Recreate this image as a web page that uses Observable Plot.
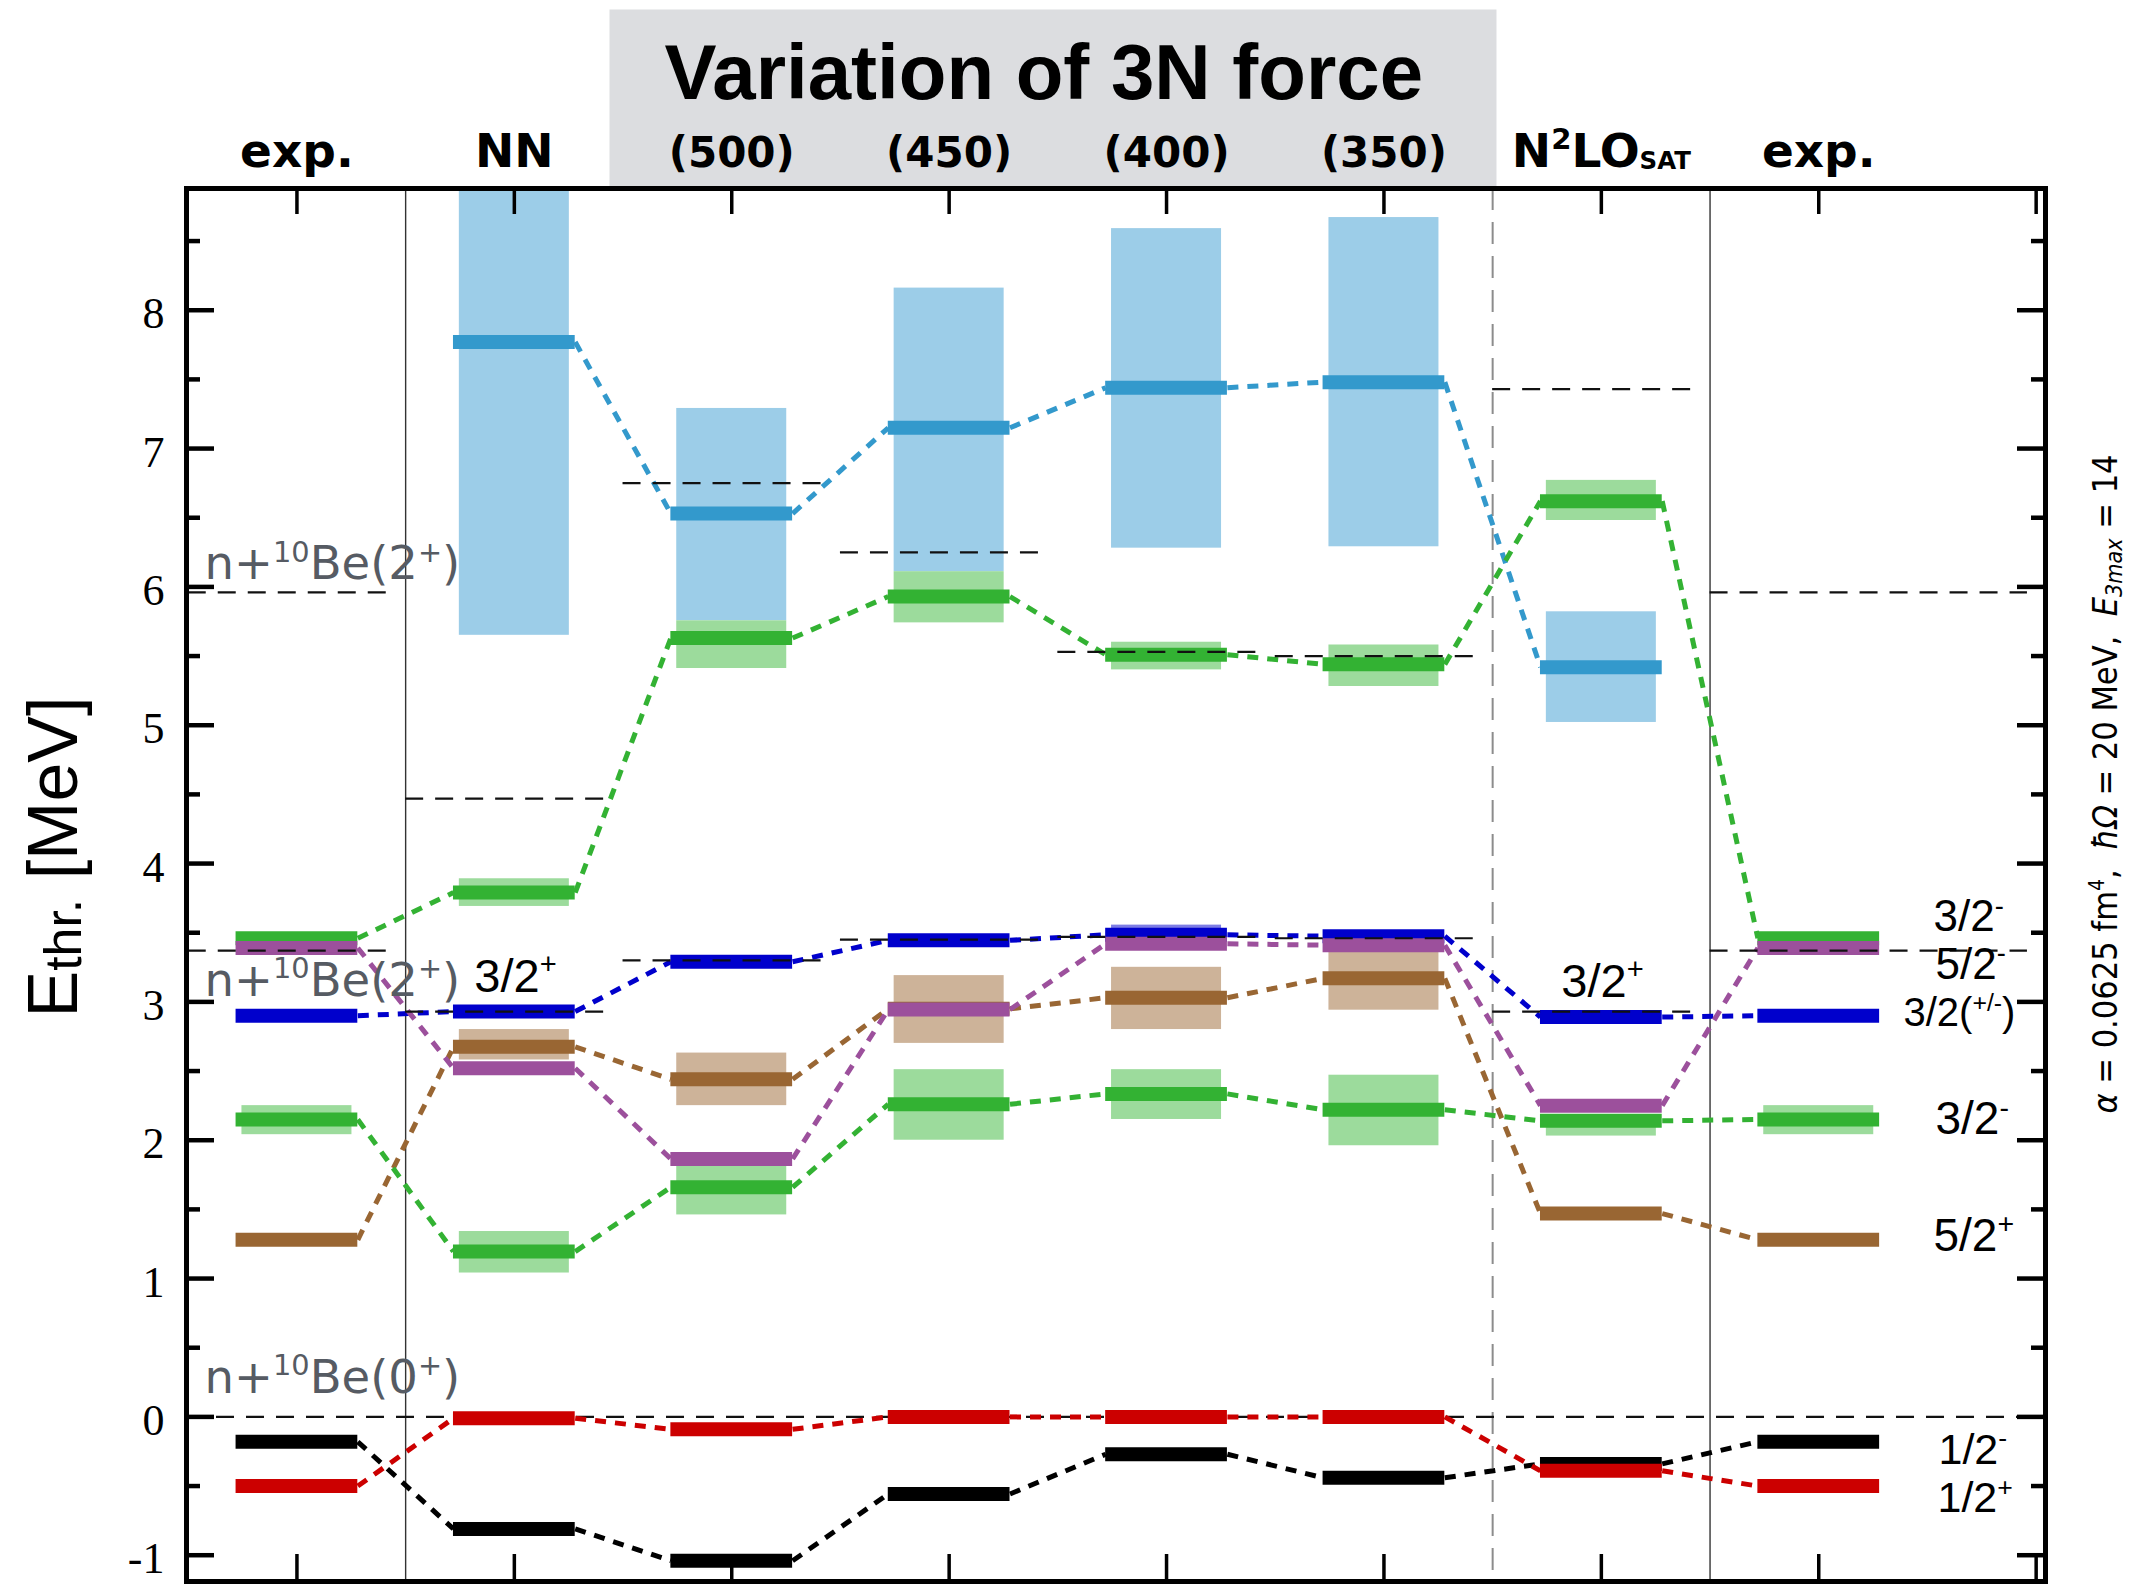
<!DOCTYPE html>
<html>
<head>
<meta charset="utf-8">
<script src="https://cdn.jsdelivr.net/npm/d3@7"></script>
<script src="https://cdn.jsdelivr.net/npm/@observablehq/plot@0.6"></script>
<style>
  html, body { margin: 0; padding: 0; background: #fff; }
  svg { display: block; }
</style>
</head>
<body>
<div id="chart"></div>
<script>
// ---------------- data ----------------
const columns = ["exp.", "NN", "(500)", "(450)", "(400)", "(350)", "N^{2}LO~{SAT}", "exp."];
const threeNColumns = [2, 3, 4, 5];
const columnTicks = [0, 1, 2, 3, 4, 5, 6, 7, 8];
const solidSeparatorsAfter = [0, 6];
const dashedSeparatorsAfter = [5];
const yMajorTicks = [-1, 0, 1, 2, 3, 4, 5, 6, 7, 8];
const yMinorTicks = [-0.5, 0.5, 1.5, 2.5, 3.5, 4.5, 5.5, 6.5, 7.5, 8.5];

// levels (MeV) per column; bands = lower / upper edge of shaded uncertainty
const lvlLightBlue = [null, 7.77, 6.53, 7.15, 7.44, 7.48, 5.42, null];
const loLightBlue  = [null, 5.65, 5.755, 6.11, 6.28, 6.29, 5.02, null];
const hiLightBlue  = [null, 9.0, 7.29, 8.16, 8.59, 8.67, 5.82, null];

const lvlGreenUpper = [3.46, 3.79, 5.63, 5.93, 5.51, 5.44, 6.62, 3.46];
const loGreenUpper  = [null, 3.69, 5.41, 5.74, 5.40, 5.28, 6.48, null];
const hiGreenUpper  = [null, 3.89, 5.755, 6.11, 5.60, 5.58, 6.77, null];

const lvlBlue = [2.90, 2.93, 3.29, 3.445, 3.485, 3.475, 2.89, 2.90];
const loBlue  = [null, null, null, null, 3.44, null, null, null];
const hiBlue  = [null, null, null, null, 3.555, null, null, null];

const lvlBrown = [1.28, 2.675, 2.44, 2.95, 3.03, 3.17, 1.47, 1.28];
const loBrown  = [null, 2.58, 2.25, 2.70, 2.80, 2.94, 1.43, null];
const hiBrown  = [null, 2.80, 2.63, 3.19, 3.25, 3.37, 1.51, null];

const lvlGreenLower = [2.15, 1.195, 1.66, 2.26, 2.335, 2.22, 2.14, 2.15];
const loGreenLower  = [2.04, 1.04, 1.46, 2.00, 2.15, 1.96, 2.03, 2.04];
const hiGreenLower  = [2.25, 1.34, 1.85, 2.51, 2.51, 2.47, 2.18, 2.25];

const lvlPurple = [3.39, 2.52, 1.865, 2.945, 3.42, 3.41, 2.25, 3.39];
const lvlBlack  = [-0.18, -0.81, -1.04, -0.557, -0.27, -0.44, -0.34, -0.18];
const lvlRed    = [-0.50, -0.01, -0.09, 0.0, 0.0, 0.0, -0.39, -0.50];

// thresholds n+10Be(2+) per column (lower and upper)
const thrLow  = [3.37, 2.93, 3.30, 3.45, 3.47, 3.46, 2.93, 3.37];
const thrHigh = [5.96, 4.47, 6.75, 6.25, 5.53, 5.50, 7.43, 5.96];
const thrZero = [0];

const thresholdLabels = ["n+^{10}Be(2^{+})", "n+^{10}Be(2^{+})", "n+^{10}Be(0^{+})"];
const blueLabelColumns = [1, 6];
const blueLabelText = "3/2^{+}";
const rightLabels = ["3/2^{-}", "5/2^{-}", "3/2(^{+/-})", "3/2^{-}", "5/2^{+}", "1/2^{-}", "1/2^{+}"];
const rightLabelSeries = ["greenUpper", "purple", "blue", "greenLower", "brown", "black", "red"];
const titleText = "Variation of 3N force";
const yLabelText = "E_{thr.} [MeV]";
const paramText = "*{α} = 0.0625 fm^{4},  *{ħΩ} = 20 MeV,  *{E}%{3max} = 14";

// ---------------- styles ----------------
const seriesDefs = [
  {key: "lightBlue",  lvl: lvlLightBlue,  lo: loLightBlue,  hi: hiLightBlue,  color: "#3399cc", band: "#9ccde8"},
  {key: "greenUpper", lvl: lvlGreenUpper, lo: loGreenUpper, hi: hiGreenUpper, color: "#33b233", band: "#9cdb9c"},
  {key: "blue",       lvl: lvlBlue,       lo: loBlue,       hi: hiBlue,       color: "#0000cc", band: "#7d7de4"},
  {key: "brown",      lvl: lvlBrown,      lo: loBrown,      hi: hiBrown,      color: "#996633", band: "#cdb399"},
  {key: "greenLower", lvl: lvlGreenLower, lo: loGreenLower, hi: hiGreenLower, color: "#33b233", band: "#9cdb9c"},
  {key: "purple",     lvl: lvlPurple,     lo: null,         hi: null,         color: "#9c509c", band: null},
  {key: "black",      lvl: lvlBlack,      lo: null,         hi: null,         color: "#000000", band: null},
  {key: "red",        lvl: lvlRed,        lo: null,         hi: null,         color: "#cc0000", band: null}
];
const BAR_HW = 0.28, BAND_HW = 0.253;
const W = 2133, H = 1584, mT = 188, mL = 186, mR = 88, mB = 3;
const frameW = W - mL - mR, frameH = H - mT - mB;
const lastCol = columns.length - 1;

// ---------------- rows ----------------
const byKey = {};
for (const s of seriesDefs) {
  const levels = [], bands = [], links = [];
  s.lvl.forEach((v, c) => {
    if (v == null) return;
    levels.push({col: c, v});
    if (s.lo && s.lo[c] != null) bands.push({col: c, lo: s.lo[c], hi: s.hi[c]});
    if (c + 1 < s.lvl.length && s.lvl[c + 1] != null) links.push({c1: c, v1: v, c2: c + 1, v2: s.lvl[c + 1]});
  });
  byKey[s.key] = {s, levels, bands, links};
}
const thrRows = [...thrLow.map((v, col) => ({col, v})), ...thrHigh.map((v, col) => ({col, v}))];

const dashThr = {stroke: "#111", strokeWidth: 2.2, strokeDasharray: "18,12"};

const marks = [];
// bands
for (const s of seriesDefs) {
  const k = byKey[s.key];
  if (k.bands.length) marks.push(Plot.rect(k.bands, {x1: d => d.col - BAND_HW, x2: d => d.col + BAND_HW, y1: "lo", y2: "hi", fill: s.band, clip: true}));
}
// separators
marks.push(Plot.ruleX(solidSeparatorsAfter.map(c => c + 0.5), {stroke: "#333", strokeWidth: 1.4}));
marks.push(Plot.ruleX(dashedSeparatorsAfter.map(c => c + 0.5), {stroke: "#8c8c8c", strokeWidth: 2, strokeDasharray: "22,12"}));
// zero threshold across whole frame
marks.push(Plot.ruleY(thrZero, {y: d => d, ...dashThr}));
// connectors
for (const s of seriesDefs) {
  marks.push(Plot.link(byKey[s.key].links, {
    x1: d => d.c1 + BAR_HW, y1: "v1", x2: d => d.c2 - BAR_HW, y2: "v2",
    stroke: s.color, strokeWidth: 5, strokeDasharray: "11,9"
  }));
}
// level bars
for (const s of seriesDefs) {
  marks.push(Plot.ruleY(byKey[s.key].levels, {y: "v", x1: d => d.col - BAR_HW, x2: d => d.col + BAR_HW, stroke: s.color, strokeWidth: 14}));
}
// column thresholds (on top of bars)
marks.push(Plot.ruleY(thrRows, {y: "v", x1: d => d.col - 0.5, x2: d => d.col === lastCol ? d.col + 0.96 : d.col + 0.45, ...dashThr}));

// ticks
marks.push(Plot.ruleY(yMajorTicks, {y: d => d, insetRight: frameW - 28, stroke: "#000", strokeWidth: 4.5}));
marks.push(Plot.ruleY(yMinorTicks, {y: d => d, insetRight: frameW - 14, stroke: "#000", strokeWidth: 4.5}));
marks.push(Plot.ruleY(yMajorTicks, {y: d => d, insetLeft: frameW - 28, stroke: "#000", strokeWidth: 4.5}));
marks.push(Plot.ruleY(yMinorTicks, {y: d => d, insetLeft: frameW - 14, stroke: "#000", strokeWidth: 4.5}));
marks.push(Plot.ruleX(columnTicks, {x: d => d, insetBottom: frameH - 26, stroke: "#000", strokeWidth: 3.5}));
marks.push(Plot.ruleX(columnTicks, {x: d => d, insetTop: frameH - 27, stroke: "#000", strokeWidth: 3.5}));
marks.push(Plot.frame({stroke: "#000", strokeWidth: 5}));

// y tick labels
marks.push(Plot.text(yMajorTicks, {y: d => d, text: d => String(d), frameAnchor: "left", dx: -22, dy: 4, textAnchor: "end", fontFamily: "Liberation Serif, Times New Roman, serif", fontSize: 44, fill: "#000"}));

// column headers
marks.push(Plot.text(columns, {x: (d, i) => i, text: d => d, filter: (d, i) => !threeNColumns.includes(i), frameAnchor: "top", dy: -22, lineAnchor: "bottom", fontFamily: "DejaVu Sans, sans-serif", fontWeight: "bold", fontSize: 47, fill: "#000"}));
marks.push(Plot.text(columns, {x: (d, i) => i, text: d => d, filter: (d, i) => threeNColumns.includes(i), frameAnchor: "top", dy: -22, lineAnchor: "bottom", fontFamily: "DejaVu Sans, sans-serif", fontWeight: "bold", fontSize: 42, fill: "#000"}));
// title
marks.push(Plot.text([titleText], {x: () => d3.mean([threeNColumns[0], threeNColumns[threeNColumns.length - 1]]), text: d => d, frameAnchor: "top", dx: -14, dy: -90, lineAnchor: "bottom", fontFamily: "Liberation Sans, Arial, sans-serif", fontWeight: "bold", fontSize: 78, fill: "#000"}));

// threshold labels (gray)
const thrLabelRows = [
  {text: thresholdLabels[0], v: thrHigh[0], dy: -13},
  {text: thresholdLabels[1], v: thrLow[0], dy: 45},
  {text: thresholdLabels[2], v: thrZero[0], dy: -24}
];
for (const r of thrLabelRows) {
  marks.push(Plot.text([r], {y: "v", text: "text", frameAnchor: "left", dx: 18, dy: r.dy, textAnchor: "start", lineAnchor: "bottom", fontFamily: "DejaVu Sans, sans-serif", fontSize: 46.5, fill: "#565b63"}));
}
// 3/2+ labels above dark-blue bars
marks.push(Plot.text(blueLabelColumns.map(c => ({col: c, v: lvlBlue[c], text: blueLabelText})), {x: "col", y: "v", text: "text", dx: -40, dy: -20, textAnchor: "start", lineAnchor: "bottom", fontFamily: "Liberation Sans, Arial, sans-serif", fontSize: 47, fill: "#000"}));

// right labels
const rightDy = [-7, 31, 10, 15, 11, 22, 26];
const rightDx = [-112, -110, -142, -110, -112, -107, -108];
const rightSize = [44, 44, 40, 46, 46, 43, 43];
rightLabels.forEach((t, i) => {
  const row = {text: t, v: byKey[rightLabelSeries[i]].s.lvl[lastCol]};
  marks.push(Plot.text([row], {y: "v", text: "text", frameAnchor: "right", dx: rightDx[i], dy: rightDy[i], textAnchor: "start", lineAnchor: "bottom", fontFamily: "Liberation Sans, Arial, sans-serif", fontSize: rightSize[i], fill: "#000"}));
});

// y axis label (rotated)
marks.push(Plot.text([yLabelText], {text: d => d, frameAnchor: "left", dx: -132, dy: -28, rotate: -90, textAnchor: "middle", lineAnchor: "middle", fontFamily: "Liberation Sans, Arial, sans-serif", fontSize: 70, fill: "#000"}));
// parameter text (rotated, right)
marks.push(Plot.text([paramText], {text: d => d, frameAnchor: "right", dx: 61, dy: -101, rotate: -90, textAnchor: "middle", lineAnchor: "middle", fontFamily: "DejaVu Sans Condensed, Liberation Sans Narrow, sans-serif", fontSize: 34, fill: "#000"}));

const chart = Plot.plot({
  width: W, height: H,
  marginTop: mT, marginLeft: mL, marginRight: mR, marginBottom: mB,
  x: {domain: [-0.508, 8.043], axis: null},
  y: {domain: [-1.19, 8.88], axis: null},
  style: {background: "#fff", fontFamily: "Liberation Sans, Arial, sans-serif", overflow: "visible"},
  marks
});

document.getElementById("chart").append(chart);

// gray header box behind the 3N columns
const xs = chart.scale("x");
d3.select(chart).insert("rect", ":first-child")
  .attr("x", xs.apply(threeNColumns[0] - 0.56))
  .attr("width", xs.apply(threeNColumns[threeNColumns.length - 1] + 0.52) - xs.apply(threeNColumns[0] - 0.56))
  .attr("y", 9.5).attr("height", 177.5)
  .attr("fill", "#dcdde0");

// rich text: ^{sup} _{sub} ~{small sub} *{italic} %{italic sub}
const STY = {
  "^": {scale: 0.62, shift: -0.38},
  "_": {scale: 0.74, shift: 0.06},
  "~": {scale: 0.52, shift: 0.06},
  "*": {scale: 1, shift: 0, italic: true},
  "%": {scale: 0.68, shift: 0.14, italic: true}
};
chart.querySelectorAll("text").forEach(t => {
  const s = t.textContent;
  if (!/[\^_~*%]\{/.test(s)) { t.style.whiteSpace = "pre"; return; }
  const fs = parseFloat(getComputedStyle(t).fontSize);
  const parts = [];
  const re = /([\^_~*%])\{([^}]*)\}/g;
  let last = 0, m;
  while ((m = re.exec(s))) {
    if (m.index > last) parts.push({txt: s.slice(last, m.index), k: null});
    parts.push({txt: m[2], k: m[1]});
    last = re.lastIndex;
  }
  if (last < s.length) parts.push({txt: s.slice(last), k: null});
  t.textContent = "";
  t.style.whiteSpace = "pre";
  let cur = 0;
  for (const p of parts) {
    const st = STY[p.k] || {scale: 1, shift: 0};
    const ts = document.createElementNS("http://www.w3.org/2000/svg", "tspan");
    const target = st.shift * fs;
    ts.setAttribute("dy", (target - cur).toFixed(2));
    cur = target;
    if (st.scale !== 1) ts.setAttribute("font-size", (st.scale * fs).toFixed(2));
    if (st.italic) ts.setAttribute("font-style", "italic");
    ts.textContent = p.txt;
    t.appendChild(ts);
  }
});
</script>
</body>
</html>
